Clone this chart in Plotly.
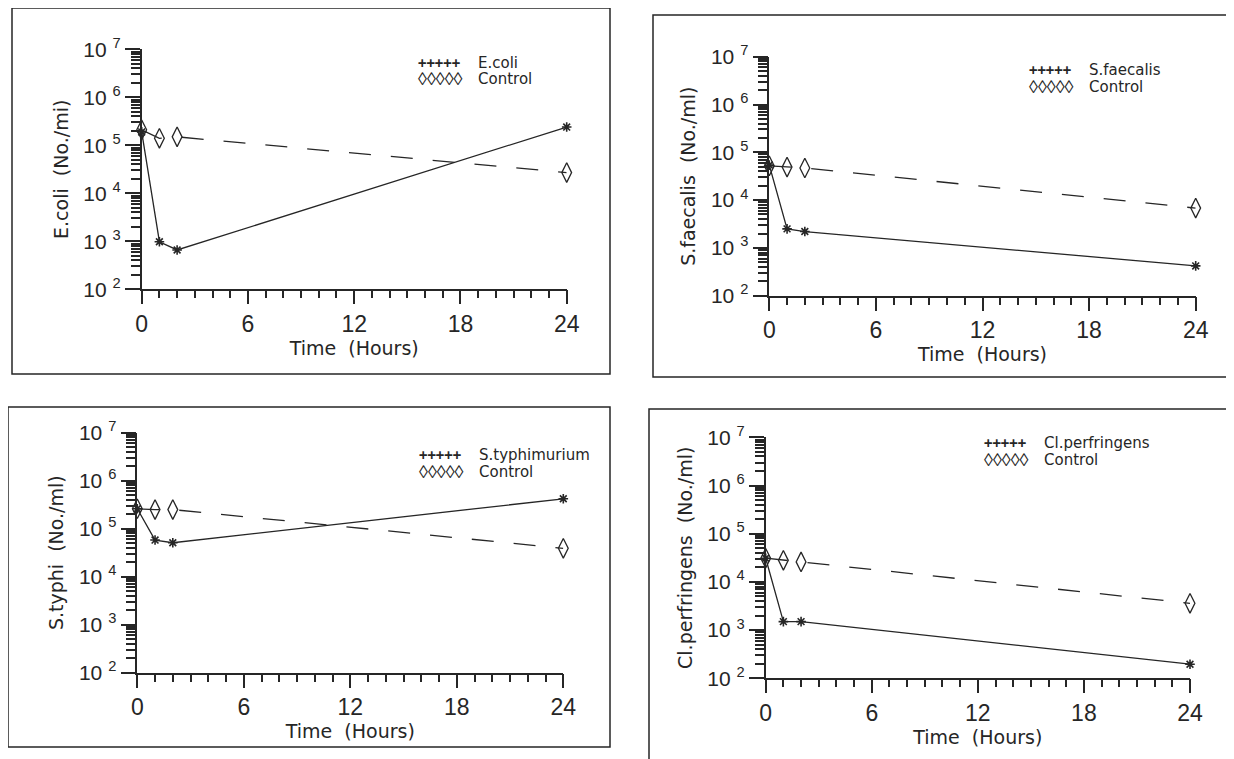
import plotly.graph_objects as go

W, H = 1234, 759
OFF = 8  # page body margin of the browser

# ---------------- data ----------------
hours = [0, 1, 2, 24]

ecoli = [1.9e5, 9.8e2, 6.6e2, 2.4e5]
ecoli_control = [2.1e5, 1.4e5, 1.5e5, 2.7e4]

sfaecalis = [5.4e4, 2.5e3, 2.2e3, 4.2e2]
sfaecalis_control = [5.2e4, 4.9e4, 4.7e4, 6.8e3]

styph = [2.6e5, 5.8e4, 5.1e4, 4.2e5]
styph_control = [2.6e5, 2.5e5, 2.5e5, 3.9e4]

clperf = [3.1e4, 1.5e3, 1.5e3, 1.96e2]
clperf_control = [3.1e4, 2.8e4, 2.6e4, 3.6e3]

x_tick_vals = [0, 6, 12, 18, 24]
y_exponents = [2, 3, 4, 5, 6, 7]

series_names = ["E.coli", "S.faecalis", "S.typhimurium", "Cl.perfringens"]
y_titles = ["E.coli  (No./mi)", "S.faecalis  (No./ml)", "S.typhi  (No./ml)", "Cl.perfringens  (No./ml)"]
x_title = "Time  (Hours)"
control_name = "Control"

treated = [ecoli, sfaecalis, styph, clperf]
controls = [ecoli_control, sfaecalis_control, styph_control, clperf_control]

# ---------------- layout geometry (screen pixels) ----------------
panels = [
    dict(x0=141.7, x1=566.7, ytop=49.3, ybot=289.3, lx=416, ly=63, box=(12, 8, 610, 374)),
    dict(x0=769.3, x1=1195.7, ytop=56.7, ybot=295.7, lx=1027, ly=70, box=(653, 15, 1233, 377)),
    dict(x0=137.3, x1=563.3, ytop=432.7, ybot=672.7, lx=417, ly=455, box=(8, 407, 610, 747)),
    dict(x0=765.7, x1=1190.0, ytop=437.3, ybot=678.3, lx=982, ly=443, box=(649, 409, 1231, 765)),
]

def px(v):
    return (v - OFF) / W

def py(v):
    return 1 - (v - OFF) / H

INK = "#262626"
FONT = "DejaVu Sans"

fig = go.Figure()
layout = dict(
    width=W, height=H, autosize=False,
    margin=dict(l=0, r=0, t=0, b=0, pad=0, autoexpand=False),
    paper_bgcolor="white", plot_bgcolor="white",
    showlegend=False,
    font=dict(family=FONT, color=INK),
)

minor_x = list(range(0, 25))
minor_y = [k * 10 ** e for e in range(2, 7) for k in range(2, 10)]
y_tick_vals = [10 ** e for e in y_exponents]
y_tick_text = ["10 <sup>%d</sup>" % e for e in y_exponents]

shapes = []
annotations = []

for i, p in enumerate(panels):
    n = i + 1
    m = n + 4
    xa = "x" if n == 1 else "x%d" % n
    ya = "y" if n == 1 else "y%d" % n
    xm, ym = "x%d" % m, "y%d" % m
    fig.add_trace(go.Scatter(
        x=hours, y=treated[i], xaxis=xa, yaxis=ya, name=series_names[i],
        mode="lines+markers", cliponaxis=False,
        line=dict(color=INK, width=1.3),
        marker=dict(symbol="asterisk-open", size=8, line=dict(color=INK, width=1.6)),
    ))
    fig.add_trace(go.Scatter(
        x=hours, y=controls[i], xaxis=xa, yaxis=ya, name=control_name,
        mode="lines+markers", cliponaxis=False,
        line=dict(color=INK, width=1.3, dash="22px,20px"),
        marker=dict(symbol="diamond-tall-open", size=14, line=dict(color=INK, width=1.3)),
    ))
    # empty helper traces so the minor-tick overlay axes get drawn
    fig.add_trace(go.Scatter(x=[None], y=[None], xaxis=xm, yaxis=ya, hoverinfo="skip", mode="markers"))
    fig.add_trace(go.Scatter(x=[None], y=[None], xaxis=xa, yaxis=ym, hoverinfo="skip", mode="markers"))

    xkey = "xaxis" if n == 1 else "xaxis%d" % n
    ykey = "yaxis" if n == 1 else "yaxis%d" % n
    dom_x = [px(p["x0"]), px(p["x1"])]
    dom_y = [py(p["ybot"]), py(p["ytop"])]
    layout[xkey] = dict(
        domain=dom_x, anchor=ya, range=[0, 24], automargin=False,
        showgrid=False, zeroline=False, showline=True, linecolor=INK, linewidth=1.6,
        ticks="outside", tickmode="array", tickvals=x_tick_vals, ticklen=13,
        tickwidth=1.8, tickcolor=INK,
        tickfont=dict(family="Liberation Sans", size=23, color=INK),
        title=dict(text=x_title, font=dict(family=FONT, size=19, color=INK), standoff=6),
    )
    layout[ykey] = dict(
        domain=dom_y, anchor=xa, type="log", range=[2, 7], automargin=False,
        showgrid=False, zeroline=False, showline=True, linecolor=INK, linewidth=1.6,
        ticks="outside", tickmode="array", tickvals=y_tick_vals, ticktext=y_tick_text,
        ticklen=15, tickwidth=1.8, tickcolor=INK,
        tickfont=dict(family="Liberation Sans", size=21, color=INK),
        title=dict(text=y_titles[i], font=dict(family=FONT, size=19, color=INK), standoff=10),
    )
    layout["xaxis%d" % m] = dict(
        domain=dom_x, anchor=ya, overlaying=xa, range=[0, 24], automargin=False,
        showgrid=False, zeroline=False, showline=False, showticklabels=False,
        ticks="outside", tickmode="array", tickvals=minor_x, ticklen=8,
        tickwidth=1.6, tickcolor=INK, side="bottom",
    )
    layout["yaxis%d" % m] = dict(
        domain=dom_y, anchor=xa, overlaying=ya, type="log", range=[2, 7], automargin=False,
        showgrid=False, zeroline=False, showline=False, showticklabels=False,
        ticks="outside", tickmode="array", tickvals=minor_y, ticklen=10,
        tickwidth=1.5, tickcolor=INK, side="left",
    )
    bx0, by0, bx1, by1 = p["box"]
    shapes.append(dict(type="rect", xref="paper", yref="paper",
                       x0=px(bx0), x1=px(bx1), y0=py(by1), y1=py(by0),
                       line=dict(color=INK, width=1.5)))
    for r, (sym, label, fs, fam) in enumerate([("<b>+++++</b>", series_names[i], 14, "DejaVu Sans Mono"),
                                               ("◊◊◊◊◊", control_name, 18, "Liberation Sans")]):
        yy = py(p["ly"] + r * 16.5)
        annotations.append(dict(xref="paper", yref="paper", x=px(p["lx"]), y=yy,
                                xanchor="left", yanchor="middle", showarrow=False,
                                text=sym, font=dict(family=fam, size=fs, color=INK)))
        annotations.append(dict(xref="paper", yref="paper", x=px(p["lx"] + 60), y=yy,
                                xanchor="left", yanchor="middle", showarrow=False,
                                text=label, font=dict(family=FONT, size=15, color=INK)))

layout["shapes"] = shapes
layout["annotations"] = annotations
fig.update_layout(**layout)
fig.write_html("out.html")
